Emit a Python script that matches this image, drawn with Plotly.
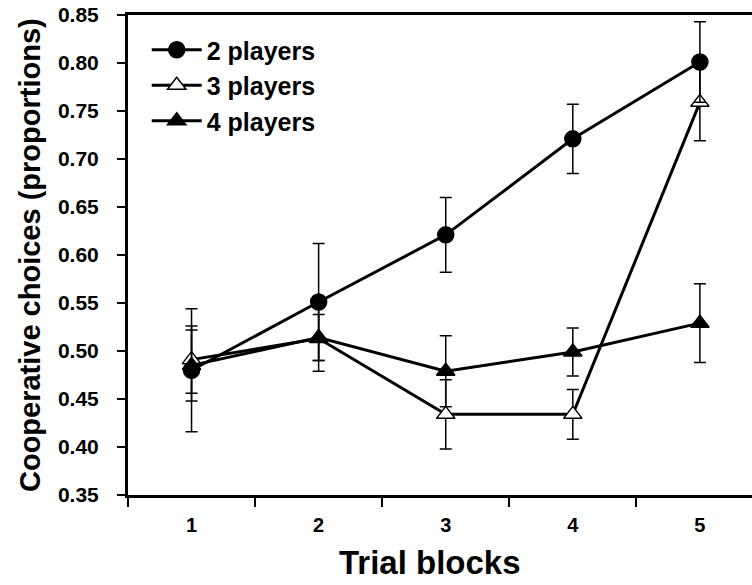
import plotly.graph_objects as go

blocks = ["1", "2", "3", "4", "5"]
p2 = [0.480, 0.551, 0.621, 0.721, 0.801]
p2_err = [0.064, 0.061, 0.039, 0.036, 0.042]
p3 = [0.491, 0.513, 0.434, 0.434, 0.759]
p3_err = [0.035, 0.034, 0.036, 0.026, 0.040]
p4 = [0.485, 0.514, 0.479, 0.499, 0.529]
p4_err = [0.037, 0.024, 0.037, 0.025, 0.041]
series_names = ["2 players", "3 players", "4 players"]
y_ticks = [0.35, 0.40, 0.45, 0.50, 0.55, 0.60, 0.65, 0.70, 0.75, 0.80, 0.85]
x_title = "Trial blocks"
y_title = "Cooperative choices (proportions)"

FONT = "Liberation Sans, Arial, sans-serif"

fig = go.Figure()

def add(y, err, name, symbol, fill, rank):
    fig.add_trace(go.Scatter(
        x=blocks, y=y, name=name, mode="lines+markers", legendrank=rank,
        line=dict(color="black", width=3),
        marker=dict(symbol=symbol, size=16, color=fill,
                    line=dict(color="black", width=1.5)),
        error_y=dict(type="data", array=err, visible=True,
                     color="black", thickness=1.5, width=6),
    ))

add(p3, p3_err, series_names[1], "triangle-up", "white", 2)
add(p4, p4_err, series_names[2], "triangle-up", "black", 3)
add(p2, p2_err, series_names[0], "circle", "black", 1)

fig.update_layout(
    width=752, height=585,
    margin=dict(l=128, r=0, t=15, b=90, autoexpand=False),
    plot_bgcolor="white", paper_bgcolor="white",
    font=dict(family=FONT, color="black", size=21, weight="bold"),
    legend=dict(x=0.03, y=0.975, xanchor="left", yanchor="top",
                traceorder="normal",
                font=dict(size=25, family=FONT, weight="bold", color="black"),
                bgcolor="rgba(0,0,0,0)", itemwidth=50,
                tracegroupgap=0),
    xaxis=dict(
        type="category", range=[-0.5, 4.41], tickson="boundaries",
        ticks="outside", ticklen=9, tickwidth=2, tickcolor="black",
        showline=True, linewidth=3, linecolor="black", mirror=True,
        showgrid=False, zeroline=False, ticklabelstandoff=10,
        tickfont=dict(size=20, family=FONT, weight="bold"),
    ),
    yaxis=dict(
        range=[0.35, 0.85], tickvals=y_ticks, tickformat=".2f",
        ticks="outside", ticklen=8, tickwidth=2, tickcolor="black",
        showline=True, linewidth=3, linecolor="black",
        showgrid=False, zeroline=False, ticklabelstandoff=14,
        tickfont=dict(size=21, family=FONT, weight="bold"),
    ),
    annotations=[
        dict(text=x_title, xref="paper", yref="paper", x=0.484, y=-0.184,
             xanchor="center", yanchor="bottom", showarrow=False,
             font=dict(size=33, family=FONT, weight="bold", color="black")),
        dict(text=y_title, xref="paper", yref="paper", x=-0.157, y=0.5,
             xanchor="center", yanchor="middle", showarrow=False, textangle=-90,
             font=dict(size=29, family=FONT, weight="bold", color="black")),
    ],
)

fig.write_html("out.html", config={"displayModeBar": False},
               post_script="document.body.style.margin='0';")
